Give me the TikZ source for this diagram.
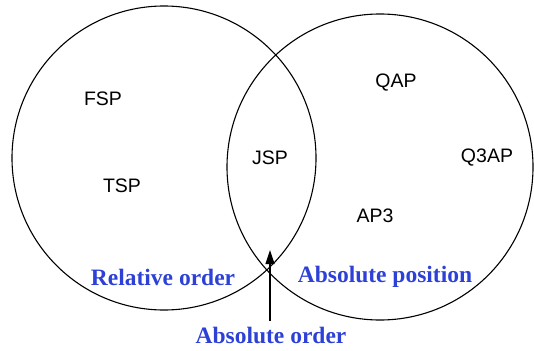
\documentclass[tikz,border=0pt]{standalone}
\usepackage{fontspec}
\setmainfont{Liberation Serif}
\setsansfont{Liberation Sans}
\usetikzlibrary{arrows.meta}
\definecolor{lblblue}{RGB}{45,65,215}
\begin{document}
\begin{tikzpicture}[x=1pt,y=-1pt,
  setcircle/.style={draw=black,line width=1.1pt},
  item/.style={font=\sffamily\fontsize{19.5}{22}\selectfont,inner sep=0pt},
  cat/.style={font=\bfseries\fontsize{23.5}{26}\selectfont,text=lblblue,inner sep=0pt},
  arrowline/.style={line width=1.2pt,-{Triangle[length=14pt,width=9pt]}}]
\useasboundingbox (0,0) rectangle (534,350);
\draw[setcircle] (164,158) circle (152);
\draw[setcircle] (380,167) circle (153);
\node[item] (fsp) at (103,99) {FSP};
\node[item] (tsp) at (122,186) {TSP};
\node[item] (jsp) at (270,158) {JSP};
\node[item] (qap) at (396,83) {QAP};
\node[item] (q3ap) at (487,158) {Q3AP};
\node[item] (ap3) at (375,216) {AP3};
\node[cat] (rel) at (163,277) {Relative order};
\node[cat] (absp) at (385,277) {Absolute position};
\node[cat,anchor=north] (abso) at (271,327) {Absolute order};
\coordinate (tip) at (270,250);
\coordinate (tail) at (270,321);
\draw[arrowline] (tail) -- (tip);
\end{tikzpicture}
\end{document}
